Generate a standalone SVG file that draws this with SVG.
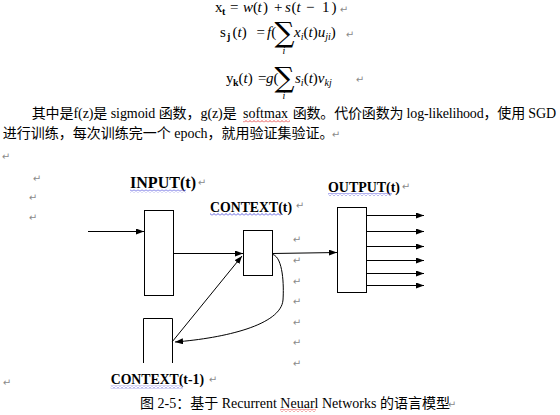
<svg xmlns="http://www.w3.org/2000/svg" width="560" height="415" viewBox="0 0 560 415">
<style>
.eq{font-family:"Liberation Serif",serif;font-size:15px;fill:#000}
.it{font-style:italic}
.sub{font-size:10px}
.sum{font-family:"DejaVu Serif",serif;font-size:28px;text-anchor:middle}
.body{font-family:"Liberation Serif","Noto Sans CJK SC",serif;font-size:14px;fill:#000}
.lbl{font-family:"Liberation Serif",serif;font-weight:bold;fill:#000}
.ret{font-family:"DejaVu Sans",sans-serif;font-size:10px;fill:#8a8a8a;text-anchor:middle}
.box{fill:#fff;stroke:#000;stroke-width:1}
.conn{fill:none;stroke:#000;stroke-width:1;marker-end:url(#ah)}
</style>
<defs>
<marker id="ah" viewBox="0 0 8 6" refX="8" refY="3" markerWidth="8" markerHeight="6" markerUnits="userSpaceOnUse" orient="auto">
<path d="M0,0 L8,3 L0,6 z" fill="#000"/>
</marker>
<pattern id="wb" patternUnits="userSpaceOnUse" width="4" height="3">
<path d="M0,2.5 L2,0.5 L4,2.5" fill="none" stroke="#3a3ad8" stroke-width="0.8"/>
</pattern>
<pattern id="wr" patternUnits="userSpaceOnUse" width="4" height="3">
<path d="M0,2.5 L2,0.5 L4,2.5" fill="none" stroke="#e02020" stroke-width="0.8"/>
</pattern>
</defs>
<rect width="560" height="415" fill="#fff"/>

<g id="equations">
<text class="eq" y="12"><tspan x="215">x</tspan><tspan x="222" dy="3" class="sub" font-weight="bold">t</tspan><tspan x="230" dy="-3">=</tspan><tspan x="243" class="it">w</tspan><tspan x="253">(</tspan><tspan x="257.5" class="it">t</tspan><tspan x="263">)</tspan><tspan x="274">+</tspan><tspan x="285" class="it">s</tspan><tspan x="291.5">(</tspan><tspan x="296.5" class="it">t</tspan><tspan x="306">−</tspan><tspan x="322">1</tspan><tspan x="331.5">)</tspan></text>
<text class="eq" y="37"><tspan x="220">s</tspan><tspan x="227" dy="3" class="sub" font-weight="bold">j</tspan><tspan x="232.5" dy="-3">(</tspan><tspan class="it">t</tspan><tspan>)</tspan><tspan x="256.5">=</tspan><tspan x="267" class="it">f</tspan><tspan>(</tspan><tspan x="294" class="it">x</tspan><tspan dy="3" class="sub it">i</tspan><tspan dy="-3">(</tspan><tspan class="it">t</tspan><tspan>)</tspan><tspan class="it">u</tspan><tspan dy="3" class="sub it">ji</tspan><tspan dy="-3">)</tspan></text>
<text class="sum" x="284.5" y="42">∑</text>
<text class="eq sub it" x="284" y="54" text-anchor="middle">i</text>
<text class="eq" y="83"><tspan x="226">y</tspan><tspan x="233" dy="3" class="sub" font-weight="bold">k</tspan><tspan x="238.5" dy="-3">(</tspan><tspan class="it">t</tspan><tspan>)</tspan><tspan x="258">=</tspan><tspan x="266" class="it">g</tspan><tspan>(</tspan><tspan x="295" class="it">s</tspan><tspan dy="3" class="sub it">i</tspan><tspan dy="-3">(</tspan><tspan class="it">t</tspan><tspan>)</tspan><tspan class="it">v</tspan><tspan dy="3" class="sub it">kj</tspan></text>
<text class="sum" x="284.5" y="87">∑</text>
<text class="eq sub it" x="284" y="99" text-anchor="middle">i</text>
</g>

<g id="paragraph">
<text class="body" x="31.7" y="118" textLength="205">其中是f(z)是 sigmoid 函数，g(z)是</text>
<text class="body" x="243" y="118">softmax</text>
<text class="body" x="292.7" y="118" textLength="263.3">函数。代价函数为 log-likelihood，使用 SGD</text>
<rect x="243" y="119.5" width="47" height="3" fill="url(#wr)"/>
<text class="body" x="2.7" y="138">进行训练，每次训练完一个 epoch，就用验证集验证。</text>
</g>

<g id="return-marks">
<text class="ret" x="344" y="13">↵</text>
<text class="ret" x="350" y="38">↵</text>
<text class="ret" x="360" y="83">↵</text>
<text class="ret" x="336" y="138">↵</text>
<text class="ret" x="6" y="160">↵</text>
<text class="ret" x="37" y="182">↵</text>
<text class="ret" x="33" y="201">↵</text>
<text class="ret" x="33" y="221">↵</text>
<text class="ret" x="202" y="186">↵</text>
<text class="ret" x="300" y="209">↵</text>
<text class="ret" x="406" y="190">↵</text>
<text class="ret" x="297" y="243">↵</text>
<text class="ret" x="297" y="264">↵</text>
<text class="ret" x="297" y="285">↵</text>
<text class="ret" x="297" y="305">↵</text>
<text class="ret" x="297" y="326">↵</text>
<text class="ret" x="297" y="346">↵</text>
<text class="ret" x="297" y="367">↵</text>
<text class="ret" x="7" y="386">↵</text>
<text class="ret" x="213" y="383">↵</text>
<text class="ret" x="452" y="408">↵</text>
</g>

<g id="input">
<rect class="box" x="144.5" y="210.5" width="29" height="85"/>
<text class="lbl" x="130" y="188" font-size="16" textLength="66" lengthAdjust="spacingAndGlyphs">INPUT(t)</text>
<rect x="130" y="189.5" width="56" height="3" fill="url(#wb)"/>
</g>

<g id="context">
<rect class="box" x="243.5" y="230.5" width="29" height="45"/>
<text class="lbl" x="210" y="211.5" font-size="15" textLength="82" lengthAdjust="spacingAndGlyphs">CONTEXT(t)</text>
<rect x="210" y="213" width="72" height="3" fill="url(#wb)"/>
</g>

<g id="output">
<rect class="box" x="337.5" y="207.5" width="29" height="85"/>
<text class="lbl" x="328" y="191.5" font-size="15" textLength="72" lengthAdjust="spacingAndGlyphs">OUTPUT(t)</text>
<rect x="328" y="193" width="64" height="3" fill="url(#wb)"/>
</g>

<g id="context-prev">
<path class="box" fill="none" d="M143.5,363 V318.5 H172.5 V363"/>
<text class="lbl" x="110.7" y="384" font-size="15" textLength="93.3" lengthAdjust="spacingAndGlyphs">CONTEXT(t-1)</text>
<rect x="110.7" y="385.5" width="72" height="3" fill="url(#wb)"/>
</g>

<g id="connectors">
<path class="conn" d="M88,231.5 H144"/>
<path class="conn" d="M173.5,253.5 H243"/>
<path class="conn" d="M172,342 L242,256"/>
<path class="conn" d="M273,254.5 C283,258 284,285 283,300 C281,325 225,338 175,342"/>
<path class="conn" d="M272.5,253.5 L337,252.5"/>
<path class="conn" d="M366.5,215.5 H424"/>
<path class="conn" d="M366.5,231.5 H424"/>
<path class="conn" d="M366.5,246.5 H424"/>
<path class="conn" d="M366.5,260.5 H424"/>
<path class="conn" d="M366.5,273.5 H424"/>
<path class="conn" d="M366.5,285.5 H424"/>
</g>

<g id="caption">
<text class="body" x="140" y="407.5">图 2-5：基于 Recurrent Neuarl Networks 的语言模型</text>
<rect x="280" y="409" width="36" height="3" fill="url(#wr)"/>
</g>
</svg>
